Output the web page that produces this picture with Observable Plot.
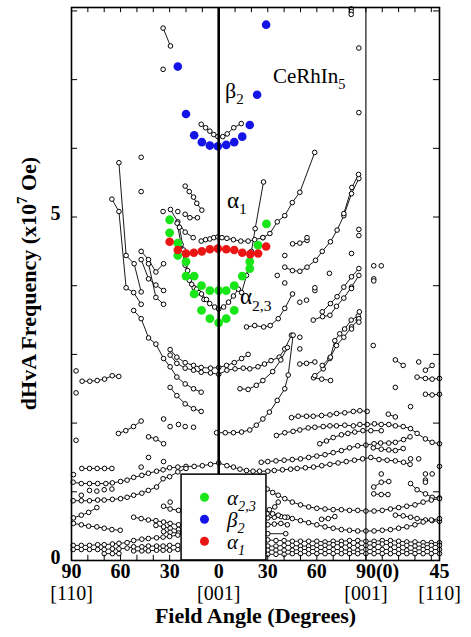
<!DOCTYPE html>
<html><head><meta charset="utf-8">
<script src="https://cdn.jsdelivr.net/npm/d3@7"></script>
<script src="https://cdn.jsdelivr.net/npm/@observablehq/plot@0.6"></script>
<style>body{margin:0;background:#fff}</style>
</head><body><div id="chart"></div>
<script>
// ---------- DATA (field angle u in degrees along the path [110]->[001]->[001]->[110]; F in 10^7 Oe) ----------
const bTopL = [[-34,7.75],[-29.5,7.49]];
const bBetaOpen = [[-10.7,6.35],[-8,6.30],[-5.4,6.25],[-3,6.20],[-0.5,6.17],[2.5,6.17],[5.2,6.21],[9.2,6.30],[13.8,6.36]];
const bSteep1 = [[-61,5.79],[-56.6,4.44],[-51.7,4.32],[-47.4,3.91]];
const bSteep2 = [[-65.3,5.26],[-61,5.08],[-56.6,3.97],[-52,3.90],[-47.4,3.73]];
const bLong = [[-52,3.64],[-47.4,3.52],[-42.9,3.24],[-38.4,3.15],[-33.7,2.94],[-29.7,2.82],[-25.6,2.67],[-20.5,2.57],[-15.4,2.50],[-10.7,2.45]];
const bL1 = [[-47.4,4.50],[-42.9,4.38],[-38.4,4.20],[-33.7,4.32]];
const bL2 = [[-47.4,4.38],[-42.9,4.10],[-38.4,4.01],[-33.7,3.93]];
const bL3 = [[-42.9,4.32],[-38.4,3.83],[-33.7,3.73]];
const bQ1 = [[-20.5,5.45],[-18,5.37],[-15.4,5.29],[-13.4,5.20],[-10.3,5.10]];
const bN1 = [[-29.5,5.11],[-25,4.93],[-20.5,4.78],[-15.6,4.70]];
const bN2 = [[-20.5,5.04],[-17.6,4.99],[-13,4.99]];
const bAlpha3a = [[-25.4,4.91],[-23,4.60],[-20.5,4.30],[-18,4.08],[-15,3.97],[-12.2,3.90],[-9,3.80],[-5.5,3.74],[-2.5,3.69],[0,3.66],[3,3.69],[6,3.76],[9,3.85],[12,3.95]];
const bAlpha3b = [[-24,4.85],[-21.5,4.52],[-19,4.22],[-16.5,4.02],[-13.5,3.95],[-10.5,3.88],[-7.5,3.80]];
const bAlpha1Open = [[-10.7,4.65],[-8,4.67],[-5.4,4.68],[-3,4.70],[-0.5,4.71],[2,4.70],[5,4.69],[9,4.67],[13.5,4.65],[18,4.65],[22,4.67],[27,4.70]];
const bSteepR = [[27.4,5.51],[22.3,4.83],[20,4.50],[17,4.15],[14,3.90]];
const bRiseA = [[27,4.70],[31.3,4.76],[35.8,4.93],[40.4,5.02],[45,5.21],[49.6,5.36],[58.7,5.94]];
const bRiseB = [[40.4,4.27],[45.1,4.22],[49.6,4.21],[54,4.27],[59.2,4.37],[63.3,4.50],[68.3,4.64],[72.4,4.81],[76.5,5.02],[81.2,5.34],[85.7,5.56]];
const bRiseB2 = [[76.5,5.05],[81.4,5.43],[85.5,5.62]];
const bShortR = [[45.2,4.61],[49.6,4.62],[54,4.66]];
const bRiseC = [[17,3.40],[22,3.42],[27.5,3.40],[31.5,3.42],[36.4,3.52],[40.4,3.67],[45.1,3.88]];
const bRiseD1 = [[63.3,3.62],[68.3,3.74],[72.4,3.84],[76.5,3.98],[81.2,4.13],[85.7,4.25]];
const bRiseD2 = [[57.8,3.50],[63.5,3.55],[68,3.57],[72,3.70],[76.5,3.82],[81.2,3.98],[85.7,4.15]];
const bC1 = [[-29.7,3.07],[-25.6,2.96],[-20.5,2.88],[-15.4,2.84],[-10.7,2.81],[-5,2.80],[0,2.81],[4.8,2.84],[9.5,2.88],[14,2.94],[18,3.00]];
const bC2 = [[-29.7,2.99],[-25.6,2.87],[-20.5,2.80],[-15.4,2.77],[-10.7,2.74],[-5,2.73],[0,2.71],[5,2.77],[10,2.79],[15,2.80],[19,2.79],[24,2.82],[28,2.86],[32,2.91],[37,2.96],[40.4,3.08],[44.5,3.28]];
const bC3 = [[-29.7,2.52],[-25.6,2.40],[-20.5,2.28],[-15.4,2.21],[-10.7,2.17]];
const bC4 = [[13,2.50],[18,2.49],[23,2.55],[27,2.62],[33,2.75],[38,2.92],[42,3.10]];
const bC5 = [[-1.3,1.86],[4,1.86],[9,1.86],[14,1.87],[19,1.90],[23,1.97],[27,2.06],[31,2.16],[35.8,2.33],[40.4,2.50],[42.5,2.70],[45.5,3.28]];
const bM1 = [[49.6,2.86],[53.7,2.87],[58.8,2.89]];
const bM2 = [[58,2.66],[63,2.64],[68.4,2.62]];
const bM3 = [[58.8,2.69],[63.9,2.79],[67.9,2.94],[72,3.13],[76.5,3.25],[81.2,3.40],[85.3,3.50]];
const bM4 = [[63.3,2.84],[68.3,2.96],[71,3.20],[74,3.30],[77,3.37],[81,3.50],[85.3,3.56]];
const bFarL1 = [[-83.5,2.61],[-78.8,2.61],[-74.3,2.62],[-69.8,2.64],[-65.1,2.69],[-61.1,2.68]];
const bFarL2 = [[-61.3,1.85],[-56.8,1.89],[-52.1,1.95],[-47.4,2.03]];
const bFarL3 = [[-42.9,1.80],[-38.4,1.77],[-33.7,1.70]];
const bFarL4 = [[-83.7,1.34],[-79,1.34],[-74.3,1.34],[-69.8,1.34],[-65.3,1.34]];
const bH1 = [[44.5,2.08],[48.6,2.10],[53.7,2.10],[57.8,2.10],[62.9,2.11],[68,2.12],[72.1,2.14],[77.1,2.15],[82.3,2.17],[86.3,2.18],[90.8,2.17]];
const bH2 = [[35.3,1.82],[40.4,1.86],[45.5,1.88],[49.6,1.90],[54.7,1.93],[58.8,1.94],[63.9,1.95],[68,1.96],[72,1.96],[77.1,1.97],[82.3,1.96],[86.3,1.98],[90.8,1.98],[95.2,1.99],[99.4,1.98],[104,1.98],[108,1.96],[112.8,1.95],[117.3,1.92],[121.3,1.85],[126.4,1.77],[130.5,1.72],[135,1.70]];
const bH3 = [[61.8,1.70],[65.9,1.74],[70,1.79],[75,1.83],[79,1.85],[83.2,1.87],[88.2,1.89],[93,1.89],[99.4,1.89]];
const bH4 = [[94.5,1.64],[99.4,1.62],[104,1.61],[108,1.60],[112.8,1.63]];
const bR90a = [[108,2.92],[112.8,2.84]];
const bR90b = [[126.4,2.77],[130.5,2.84]];
const bR90c = [[121.3,2.67],[126.4,2.65],[130.5,2.64],[135,2.65]];
const bR90d = [[126.4,2.42],[130.5,2.41],[135,2.42]];
const bR90e = [[103.7,2.13],[108,2.09]];
const bR90f = [[94.8,1.07],[99.4,1.14],[104,1.15]];
const bR90g = [[94.8,0.97],[99.4,0.96],[103.5,0.96]];
const bR90h = [[117.3,1.12],[121.3,1.03],[126.4,0.97],[130.5,0.92],[135,0.91]];
const bRL1 = [[30,0.62],[34,0.63],[38,0.64],[42,0.63]];
const bRL2 = [[30,0.52],[34,0.53],[38,0.54],[42,0.52]];
const bRL3 = [[62.9,0.60],[67,0.61],[71,0.64]];
const bRL4 = [[31,0.74],[34.3,0.78],[36.4,0.85]];
const bRL5 = [[30,0.39],[41,0.39]];
const bRow3 = [[108,0.66],[112.8,0.65],[117.3,0.63],[121.3,0.61],[126.4,0.59],[130.5,0.58],[135,0.57]];
const bBLa = [[-88.8,0.62],[-84,0.66],[-79.5,0.70],[-74.5,0.77]];
const bBLb = [[-88.8,0.54],[-84,0.52],[-79.5,0.50],[-74.5,0.49],[-70,0.47],[-65.3,0.45],[-60.2,0.44]];
const bBLc = [[-52,0.63],[-47.4,0.61],[-43,0.59],[-38.4,0.58],[-33.7,0.56],[-29.7,0.54],[-24.6,0.52]];
const bBLd = [[-38.4,0.51],[-33.7,0.49],[-29.7,0.47],[-24.6,0.45]];
const bBLe = [[-33.7,0.42],[-29.7,0.41],[-24.6,0.40]];
const bBLf = [[-33.7,0.79],[-29.7,0.75],[-24.6,0.73]];
const bBR3 = [[-70,0.10],[-65,0.10],[-61,0.10]];
const bBR4 = [[-52,0.14],[-47,0.14],[-43,0.14],[-38,0.15],[-34,0.15],[-30,0.15],[-25,0.16]];

// long rows: angles and frequencies
const rowAU = [-89,-84,-79,-74,-69,-65,-60,-56,-52,-47,-43,-38,-34,-30,-25,-20,-15,-10,-5,0,5,9,13,17,21,25,30,34,39,44,48,53,58,63,68,73,78,83,88,93,98,103,108,113,117];
const rowAF = [1.14,1.12,1.12,1.12,1.12,1.13,1.15,1.17,1.21,1.24,1.27,1.30,1.32,1.35,1.36,1.37,1.37,1.38,1.40,1.42,1.38,1.36,1.33,1.31,1.30,1.30,1.30,1.31,1.32,1.33,1.34,1.35,1.36,1.38,1.40,1.42,1.44,1.46,1.48,1.50,1.47,1.46,1.45,1.43,1.40];
const rowA2U = [26,30,35,40,45,50,55,60,65,70,75,80,85,90,95,99,104,108,113,117];
const rowA2F = [1.43,1.44,1.45,1.46,1.47,1.48,1.50,1.52,1.54,1.57,1.60,1.64,1.67,1.68,1.70,1.71,1.71,1.72,1.76,1.80];
const rowBU = [-89,-84,-79,-74,-70,-65,-60,-56,-52,-47,-43,-38,-34,-30,-25,-20];
const rowBF = [0.87,0.87,0.87,0.88,0.88,0.89,0.90,0.92,0.95,0.98,1.02,1.07,1.19,1.22,1.29,1.34];
const rowDU = [29.6,33,36.4,40.4,45,50,55,60,65,70,75,80,85,90,95,100,105,110,115,120,125,130,135];
const rowD1F = [1.04,0.99,0.95,0.90,0.85,0.81,0.78,0.76,0.75,0.74,0.74,0.73,0.73,0.72,0.72,0.73,0.75,0.77,0.79,0.81,0.85,0.88,0.90];
const rowD2F = [0.68,0.68,0.66,0.63,0.61,0.58,0.55,0.52,0.49,0.47,0.45,0.44,0.43,0.43,0.43,0.44,0.45,0.47,0.49,0.52,0.56,0.59,0.61];
const rowBotRU = [30,35,40,45,50,55,60,65,70,75,80,85,90,95,100,105,110,115,120,125,130,135];
const rowBotR1F = [0.30,0.29,0.29,0.28,0.28,0.28,0.28,0.27,0.28,0.28,0.29,0.29,0.28,0.28,0.29,0.29,0.28,0.27,0.27,0.26,0.26,0.26];
const rowBotR2F = [0.21,0.21,0.22,0.22,0.21,0.21,0.22,0.22,0.23,0.23,0.22,0.22,0.22,0.23,0.24,0.23,0.22,0.22,0.21,0.21,0.22,0.22];
const rowBotR3F = [0.15,0.15,0.15,0.15,0.16,0.16,0.16,0.16,0.16,0.16,0.15,0.15,0.16,0.16,0.16,0.16,0.16,0.15,0.15,0.16,0.16,0.16];
const rowBotR4F = [0.09,0.09,0.09,0.10,0.10,0.10,0.10,0.10,0.10,0.10,0.10,0.10,0.10,0.10,0.10,0.10,0.10,0.10,0.10,0.10,0.10,0.10];
const rowBotLU = [-89,-84,-79,-74,-70,-65,-61,-56,-52,-47,-43,-38,-34,-30,-25];
const rowBotL1F = [0.22,0.22,0.22,0.23,0.23,0.24,0.25,0.26,0.29,0.31,0.32,0.33,0.34,0.35,0.37];
const rowBotL2F = [0.16,0.16,0.16,0.16,0.16,0.17,0.17,0.18,0.20,0.20,0.21,0.21,0.21,0.22,0.22];

const singles = [
  [-34,7.15],[81,8.03],[81,7.99],[81,7.95],[85.7,7.46],[85.7,6.52],
  [-47.4,5.87],[-47.4,5.37],[-34,5.08],[-25,5.08],
  [40.4,4.44],[35.8,4.15],[40.4,4.04],[54,4.70],[67.7,4.18],[81.2,4.47],[85.7,4.82],[85.7,4.73],
  [94.8,4.29],[99.4,4.29],[94.8,4.10],[94.8,4.07],
  [49.6,3.76],[53.7,3.79],[58.8,3.93],[58.8,3.97],[81.2,3.96],[85.7,3.52],[85.7,3.47],[81.2,3.37],
  [49.6,3.25],[49.6,3.08],[86,3.62],[94.5,3.13],
  [-87.2,2.76],[-87.2,2.44],[-87.2,1.75],[-88.8,1.25],[-47.4,1.36],
  [-33.7,2.06],[-29.7,1.95],[-24.6,1.98],[-20.5,1.95],[-15.4,1.94],[-42.9,1.50],[-33.7,1.44],
  [-84,0.95],[-79,1.02],[-74.5,1.01],[-70,1.03],[-65.3,1.04],[-29.7,0.85],
  [122.3,2.89],[108,2.52],[117.3,2.24],[135,1.37],[99.4,1.26],[126.4,1.26],[126.4,1.17],[126.4,1.14],[117.3,1.48],[122.3,1.48],[130.5,1.26]
];

// coloured (filled) orbits
const alpha23 = [[-30,4.96],[-30,4.77],[-25,4.62],[-25,4.44],[-20,4.35],[-20,4.14],[-15,4.14],[-15,3.88],[-10.5,4.0],[-10.5,3.64],[-5.4,3.93],[-5.4,3.52],[0,3.93],[0,3.46],[4.6,3.93],[4.6,3.52],[9.5,4.0],[9.5,3.64],[14.4,4.14],[19,4.35],[19,4.25],[24,4.59],[29.2,4.90]];
const beta2 = [[-25,7.19],[-20,6.50],[-15,6.19],[-10.3,6.09],[-5.4,6.04],[-0.5,6.03],[4.6,6.05],[9.5,6.09],[14.4,6.17],[19,6.34],[23.5,6.78],[29,7.80]];
const alpha1 = [[-30,4.64],[-25,4.52],[-20,4.47],[-15.2,4.48],[-10.3,4.50],[-5.4,4.53],[-0.5,4.54],[4.6,4.53],[9.5,4.52],[14.4,4.48],[19.3,4.46],[24.1,4.47],[29,4.57]];

// axis text
const xTickPos = [-90,-60,-30,0,30,60,90,135];
const xTickLabels = ["90","60","30","0","30","60","90(0)","45"];
const xDirPos = [-90,0,90,135];
const xDirLabels = ["[110]","[001]","[001]","[110]"];
const xMinor = [-80,-70,-60,-50,-40,-30,-20,-10,0,10,20,30,40,50,60,70,80,90,100,110,120,130];
const yTickLabels = [0,5];
const yMinor = [1,2,3,4,5,6,7,8];

// ---------- build tables ----------
const zip = (us, fs) => us.map((u, i) => [u, fs[i]]);
const branches = [bTopL,bBetaOpen,bSteep1,bSteep2,bLong,bL1,bL2,bL3,bQ1,bN1,bN2,bAlpha3a,bAlpha3b,bAlpha1Open,
  bSteepR,bRiseA,bRiseB,bRiseB2,bShortR,bRiseC,bRiseD1,bRiseD2,bC1,bC2,bC3,bC4,bC5,bM1,bM2,bM3,bM4,
  bFarL1,bFarL2,bFarL3,bFarL4,bH1,bH2,bH3,bH4,bR90a,bR90b,bR90c,bR90d,bR90e,bR90f,bR90g,bR90h,
  bRL1,bRL2,bRL3,bRL4,bRL5,bRow3,bBLa,bBLb,bBLc,bBLd,bBLe,bBLf,bBR3,bBR4,
  zip(rowAU,rowAF),zip(rowA2U,rowA2F),zip(rowBU,rowBF),zip(rowDU,rowD1F),zip(rowDU,rowD2F),
  zip(rowBotRU,rowBotR1F),zip(rowBotRU,rowBotR2F),zip(rowBotRU,rowBotR3F),zip(rowBotRU,rowBotR4F),
  zip(rowBotLU,rowBotL1F),zip(rowBotLU,rowBotL2F)];
const lineRows = branches.flatMap((b, id) => b.map(([u, f]) => ({u, f, id})));
const openRows = lineRows.concat(singles.map(([u, f]) => ({u, f})));
const toRows = (arr) => arr.map(([u, f]) => ({u, f}));

const U_MIN = -90, U_MAX = 135, F_MAX = 8.05;
const GREEN = "#19e619", BLUE = "#1414e8", RED = "#ec1515";
const legendBox = {u1: -22.7, u2: 29.2, f1: 0, f2: 1.25};
const legendItems = [
  {u: -8.7, f: 0.92, tu: 5.4, tf: 0.80, color: GREEN, parts: [{t: "α"}, {t: "2,3", sub: true}]},
  {u: -8.7, f: 0.60, tu: 5.4, tf: 0.48, color: BLUE, parts: [{t: "β"}, {t: "2", sub: true}]},
  {u: -8.7, f: 0.28, tu: 5.4, tf: 0.16, color: RED, parts: [{t: "α"}, {t: "1", sub: true}]}
];
const annotations = [
  {u: 4.2, f: 6.73, size: 22, parts: [{t: "β"}, {t: "2", sub: true}]},
  {u: 33.5, f: 6.95, size: 21, parts: [{t: "CeRhIn"}, {t: "5", sub: true}]},
  {u: 5.4, f: 5.13, size: 23, parts: [{t: "α"}, {t: "1", sub: true}]},
  {u: 13.3, f: 3.72, size: 23, parts: [{t: "α"}, {t: "2,3", sub: true}]}
];

const FONT = "'Liberation Serif', 'Times New Roman', Times, serif";
const xTicks = xTickPos.map((u, i) => ({u, label: xTickLabels[i]}));
const xDirs = xDirPos.map((u, i) => ({u, label: xDirLabels[i]}));

const plot = Plot.plot({
  width: 471, height: 637,
  marginLeft: 71, marginRight: 32, marginTop: 7, marginBottom: 77,
  x: {domain: [U_MIN, U_MAX], axis: null},
  y: {domain: [0, F_MAX], axis: null},
  style: {fontFamily: FONT, background: "white", color: "black", overflow: "visible"},
  marks: [
    Plot.line(lineRows, {x: "u", y: "f", z: "id", stroke: "black", strokeWidth: 0.9}),
    Plot.dot(openRows, {x: "u", y: "f", r: 2.3, stroke: "black", strokeWidth: 1, fill: "white"}),
    Plot.dot(toRows(alpha23), {x: "u", y: "f", r: 4.4, fill: GREEN}),
    Plot.dot(toRows(beta2), {x: "u", y: "f", r: 4.3, fill: BLUE}),
    Plot.dot(toRows(alpha1), {x: "u", y: "f", r: 4.3, fill: RED}),
    Plot.ruleX([90], {stroke: "black", strokeWidth: 1.1}),
    Plot.ruleX([0], {stroke: "black", strokeWidth: 2.6}),
    Plot.ruleX(xMinor, {x: d => d, y1: 0, y2: 0.075, stroke: "black", strokeWidth: 1}),
    Plot.ruleX(xMinor, {x: d => d, y1: F_MAX, y2: F_MAX - 0.075, stroke: "black", strokeWidth: 1}),
    Plot.ruleY(yMinor, {y: d => d, x1: U_MIN, x2: U_MIN + 3.7, stroke: "black", strokeWidth: 1}),
    Plot.ruleY(yMinor, {y: d => d, x1: U_MAX, x2: U_MAX - 3.7, stroke: "black", strokeWidth: 1}),
    Plot.rect([legendBox], {x1: "u1", x2: "u2", y1: "f1", y2: "f2", fill: "white", stroke: "black", strokeWidth: 1.5}),
    Plot.dot(legendItems, {x: "u", y: "f", r: 4.5, fill: "color"}),
    Plot.frame({stroke: "black", strokeWidth: 1.6}),
    Plot.text(xTicks.filter(d => d.label !== "90(0)"), {x: "u", text: "label", frameAnchor: "bottom", dy: 17, fontSize: 20, fontWeight: "bold"}),
    Plot.text(xTicks.filter(d => d.label === "90(0)"), {x: "u", text: "label", frameAnchor: "bottom", dy: 17, dx: -10, textAnchor: "start", fontSize: 20, fontWeight: "bold"}),
    Plot.text(xDirs, {x: "u", text: "label", frameAnchor: "bottom", dy: 39, fontSize: 20}),
    Plot.text(["Field Angle (Degrees)"], {frameAnchor: "bottom", dy: 62, fontSize: 22, fontWeight: "bold"}),
    Plot.text(yTickLabels, {y: d => d, text: d => String(d), frameAnchor: "left", dx: -11, dy: -3, textAnchor: "end", fontSize: 20, fontWeight: "bold"})
  ]
});
document.getElementById("chart").appendChild(plot);

// ---------- rich text (subscripts / superscripts) through the plot's scales ----------
const sx = plot.scale("x"), sy = plot.scale("y");
const X = d3.scaleLinear(sx.domain, sx.range);
const Y = d3.scaleLinear(sy.domain, sy.range);
const svg = d3.select(plot);
function rich(x, y, parts, size, extra = {}) {
  const t = svg.append("text").attr("x", x).attr("y", y)
    .attr("font-family", FONT).attr("font-size", size).attr("fill", "black")
    .attr("text-anchor", "start");
  for (const k in extra) t.attr(k, extra[k]);
  let shift = 0;
  for (const p of parts) {
    const target = p.sub ? 0.3 * size : p.sup ? -0.42 * size : 0;
    const ts = t.append("tspan").text(p.t).attr("dy", target - shift);
    if (p.sub || p.sup) ts.attr("font-size", size * 0.68);
    shift = target;
  }
  return t;
}
annotations.forEach(a => rich(X(a.u), Y(a.f), a.parts, a.size));
legendItems.forEach(l => rich(X(l.tu), Y(l.tf), l.parts, 21, {"font-style": "italic"}));
const yMid = (Y(0) + Y(F_MAX)) / 2;
rich(36, yMid, [{t: "dHvA Frequency (x10"}, {t: "7", sup: true}, {t: " Oe)"}], 22,
  {"font-weight": "bold", "text-anchor": "middle", transform: `rotate(-90, 36, ${yMid})`});
</script></body></html>
